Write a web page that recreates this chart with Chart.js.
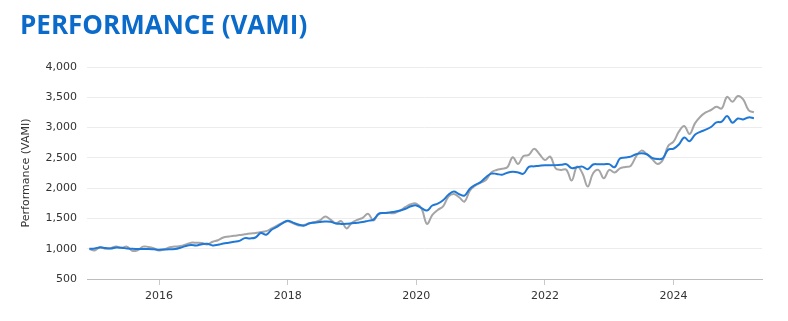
<!DOCTYPE html>
<html>
<head>
<meta charset="utf-8">
<script src="https://cdn.jsdelivr.net/npm/chart.js@4"></script>
<style>
  html, body { margin: 0; padding: 0; background: #fff; }
  #wrap { position: relative; width: 788px; height: 321px; }
  #title {
    position: absolute; left: 20px; top: 6px;
    font-family: 'Open Sans', sans-serif; font-weight: 700; font-size: 26px;
    color: #0b6bcb; letter-spacing: 0;
  }
  #VamiChart { position: absolute; left: 0; top: 0; }
</style>
</head>
<body>
<div id="wrap">
  <canvas id="VamiChart" width="788" height="321"></canvas>
  <div id="title">PERFORMANCE (VAMI)</div>
</div>
<script>
// month categories, Dec 2014 .. Apr 2025
const months = [];
for (let y = 2014, m = 12; y < 2025 || (y === 2025 && m <= 4); m++) {
    if (m > 12) { m = 1; y++; }
    if (y === 2025 && m > 4) break;
    months.push(y + '-' + String(m).padStart(2, '0'));
}

// blue line
const fundVami = [
    1000,
    1005, 1022, 1010, 1002, 1020, 1015, 1005, 998, 996, 994, 995, 990,
    983, 988, 992, 994, 1015, 1045, 1060, 1055, 1075, 1082, 1055, 1065,
    1085, 1100, 1115, 1130, 1175, 1170, 1185, 1258, 1230, 1312, 1360, 1420,
    1462, 1430, 1400, 1380, 1415, 1430, 1440, 1450, 1445, 1415, 1410, 1411,
    1420, 1428, 1440, 1460, 1480, 1575, 1590, 1600, 1612, 1630, 1660, 1700,
    1715, 1670, 1631, 1713, 1745, 1800, 1890, 1944, 1900, 1878, 1990, 2055,
    2100, 2180, 2240, 2235, 2220, 2255, 2270, 2260, 2238, 2350, 2360, 2370,
    2378, 2378, 2380, 2385, 2394, 2330, 2345, 2355, 2312, 2390, 2394, 2394,
    2396, 2345, 2490, 2505, 2520, 2560, 2578, 2560, 2500, 2480, 2495, 2635,
    2650, 2720, 2835, 2775, 2880, 2930, 2965, 3010, 3085, 3097, 3190, 3080,
    3150, 3135, 3168, 3155
];

// grey line
const benchmarkVami = [
    994,
    972, 1027, 1000, 1010, 1038, 1015, 1035, 965, 975, 1035, 1030, 1010,
    970, 990, 1025, 1035, 1045, 1070, 1100, 1098, 1093, 1071, 1115, 1140,
    1185, 1200, 1214, 1225, 1238, 1250, 1260, 1275, 1290, 1335, 1380, 1425,
    1455, 1420, 1385, 1390, 1420, 1440, 1466, 1532, 1480, 1420, 1455, 1335,
    1430, 1475, 1510, 1576, 1465, 1580, 1590, 1588, 1590, 1630, 1690, 1735,
    1745, 1660, 1411, 1560, 1640, 1700, 1860, 1905, 1850, 1779, 1960, 2040,
    2090, 2136, 2260, 2300, 2320, 2345, 2509, 2400, 2531, 2548, 2652, 2560,
    2465, 2520, 2328, 2301, 2305, 2125, 2356, 2246, 2026, 2246, 2301, 2164,
    2301, 2257, 2328, 2350, 2367, 2520, 2619, 2564, 2480, 2400, 2465, 2696,
    2767, 2932, 3025, 2894, 3069, 3179, 3250, 3290, 3344, 3316, 3508, 3426,
    3520, 3465, 3289, 3250
];

const yearTicks = [2016, 2018, 2020, 2022, 2024];
const yTicks = [500, 1000, 1500, 2000, 2500, 3000, 3500, 4000];

function toYear(label) {
    const [y, m] = label.split('-').map(Number);
    return y + (m - 1) / 12;
}

function points(values) {
    return months.map((mo, i) => ({ x: toYear(mo), y: values[i] }));
}

const tickFont = { family: "'DejaVu Sans', Verdana, sans-serif", size: 11 };

const ctx = document.getElementById('VamiChart').getContext('2d');
new Chart(ctx, {
    type: 'line',
    data: {
        datasets: [{
            label: 'Fund',
            data: points(fundVami),
            borderColor: '#1f78d6',
            borderWidth: 2,
            pointRadius: 0,
            tension: 0.4,
            fill: false
        }, {
            label: 'Benchmark',
            data: points(benchmarkVami),
            borderColor: '#a5a5a5',
            borderWidth: 2,
            pointRadius: 0,
            tension: 0.4,
            fill: false
        }]
    },
    options: {
        responsive: false,
        animation: false,
        layout: {
            padding: { top: 67, left: 20, right: 26, bottom: 0 }
        },
        plugins: {
            legend: { display: false },
            tooltip: { enabled: false }
        },
        scales: {
            x: {
                type: 'linear',
                min: 2014.88,
                max: 2025.376,
                afterBuildTicks: (scale) => {
                    scale.ticks = yearTicks.map(v => ({ value: v }));
                },
                afterFit: (scale) => { scale.height = 42; },
                grid: {
                    drawOnChartArea: false,
                    drawTicks: true,
                    tickLength: 6,
                    tickColor: '#c8c8c8'
                },
                border: { color: '#bdbdbd', width: 1 },
                ticks: {
                    padding: 5,
                    maxRotation: 0,
                    font: tickFont,
                    color: '#333',
                    callback: (v) => String(v)
                }
            },
            y: {
                min: 500,
                max: 4000,
                afterBuildTicks: (scale) => {
                    scale.ticks = yTicks.map(v => ({ value: v }));
                },
                afterFit: (scale) => { scale.width = 67; },
                grid: {
                    color: '#ececec',
                    drawTicks: false
                },
                border: { display: false },
                ticks: {
                    padding: 10,
                    font: tickFont,
                    color: '#333',
                    callback: (v) => v.toLocaleString('en-US')
                },
                title: {
                    display: true,
                    text: 'Performance (VAMI)',
                    font: tickFont,
                    color: '#333',
                    padding: { top: 0, bottom: 0 }
                }
            }
        }
    }
});
</script>
</body>
</html>
